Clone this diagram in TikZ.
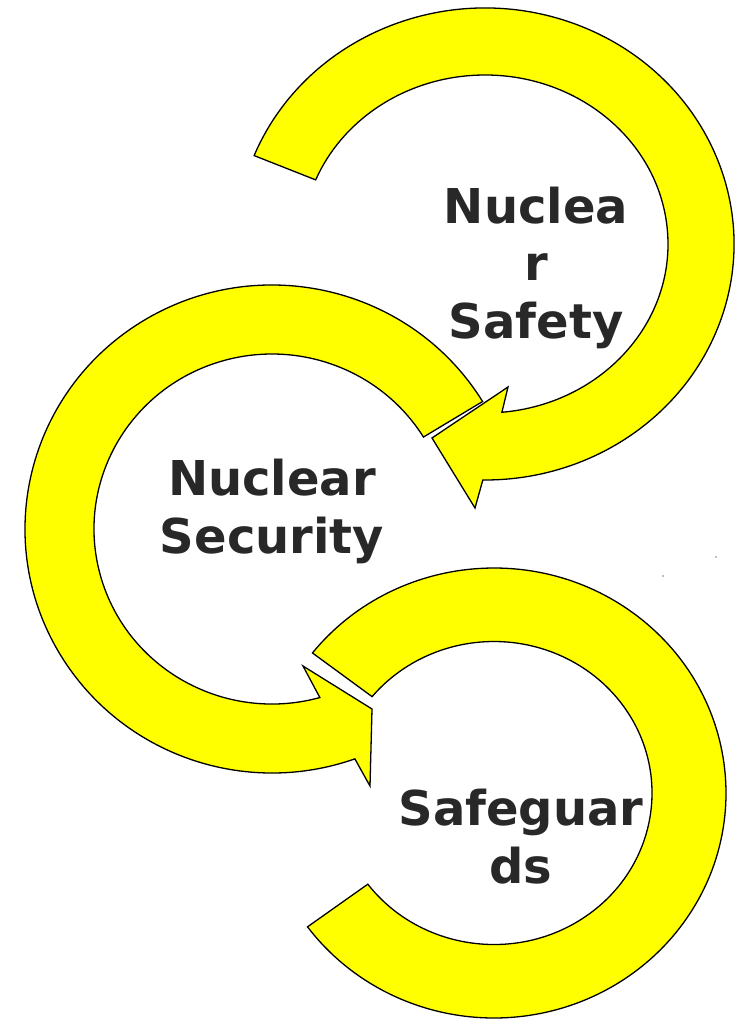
\documentclass[tikz,border=0pt]{standalone}
\usepackage{fontspec}
\setmainfont{DejaVu Sans}
\usetikzlibrary{calc}
\definecolor{arrowyellow}{RGB}{255,255,0}
\definecolor{labelgray}{RGB}{40,40,40}
\tikzset{
  ringarrow/.style={fill=arrowyellow, draw=black, line width=1.3pt, line join=miter},
  lbl/.style={text=labelgray, font=\fontsize{48}{57.5}\selectfont\bfseries, align=center, inner sep=0pt, anchor=base}
}
\begin{document}
\begin{tikzpicture}[x=1pt,y=1pt]
\useasboundingbox (0,-1020) rectangle (745,0);
\coordinate (c1) at (485,-244);
\coordinate (c2) at (272,-529);
\coordinate (c3) at (494,-793);
% arrow around Nuclear Safety
\draw[ringarrow] ($(c1)+(158:249 and 236)$) arc[start angle=158, end angle=-90.5, x radius=249, y radius=236]
  -- (475,-508) -- (432,-438) -- (508,-387)
  -- ($(c1)+(-84.7:183 and 169)$) arc[start angle=-84.7, end angle=157.7, x radius=183, y radius=169] -- cycle;
% arrow around Nuclear Security
\draw[ringarrow] ($(c2)+(31.5:247 and 244)$) arc[start angle=31.5, end angle=289.6, x radius=247, y radius=244]
  -- (370,-786) -- (372,-709) -- (303,-666)
  -- ($(c2)+(285.6:178 and 175)$) arc[start angle=285.6, end angle=31.7, x radius=178, y radius=175] -- cycle;
% arc around Safeguards
\draw[ringarrow] ($(c3)+(141.5:232 and 225)$) arc[start angle=141.5, end angle=-143.5, x radius=232, y radius=225]
  -- ($(c3)+(-143:158 and 151.5)$) arc[start angle=-143, end angle=140.5, x radius=158, y radius=151.5] -- cycle;
% labels (anchor base = baseline of the last line)
\node[lbl] (safety) at (536,-338) {Nuclea\\r\\Safety};
\node[lbl] (security) at (272,-553) {Nuclear\\Security};
\node[lbl] (safeguards) at (521,-883) {Safeguar\\ds};
% specks
\fill[gray] (716,-557) circle (0.8);
\fill[gray] (663,-576) circle (0.8);
\end{tikzpicture}
\end{document}
